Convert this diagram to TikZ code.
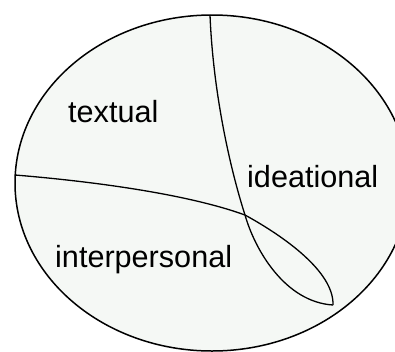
\documentclass[tikz,border=0pt]{standalone}
\usepackage{fontspec}
\setmainfont{Liberation Sans}
\definecolor{regionfill}{RGB}{245,248,245}
\begin{document}
\begin{tikzpicture}[x=1pt,y=-1pt,
  outline/.style={draw=black,line width=1.5pt,fill=regionfill},
  divider/.style={draw=black,line width=1.3pt},
  metafn/.style={anchor=base west,inner sep=0pt,text=black,
    font=\fontsize{30.6}{36}\selectfont}]
  \useasboundingbox (0,0) rectangle (395,351);
  \begin{scope}
    \clip (0,0) rectangle (395,351);
    \draw[outline] (212,183) ellipse [x radius=197, y radius=168];
  \end{scope}
  % meeting points of the dividing lines
  \coordinate (top) at (210,15);
  \coordinate (left) at (15,175);
  \coordinate (cross) at (245,215);
  \coordinate (tip) at (333,305);
  % line from the top of the ellipse down to the tip
  \draw[divider] (top) .. controls (213,90) and (229,165) .. (cross)
                       .. controls (255,250) and (285,302) .. (tip);
  % line from the left of the ellipse across to the tip
  \draw[divider] (left) .. controls (100,182) and (190,195) .. (cross)
                        .. controls (285,237) and (334,272) .. (tip);
  % region labels
  \node[metafn] (textual) at (68,122) {textual};
  \node[metafn] (ideational) at (247,187) {ideational};
  \node[metafn] (interpersonal) at (55,267) {interpersonal};
\end{tikzpicture}
\end{document}
